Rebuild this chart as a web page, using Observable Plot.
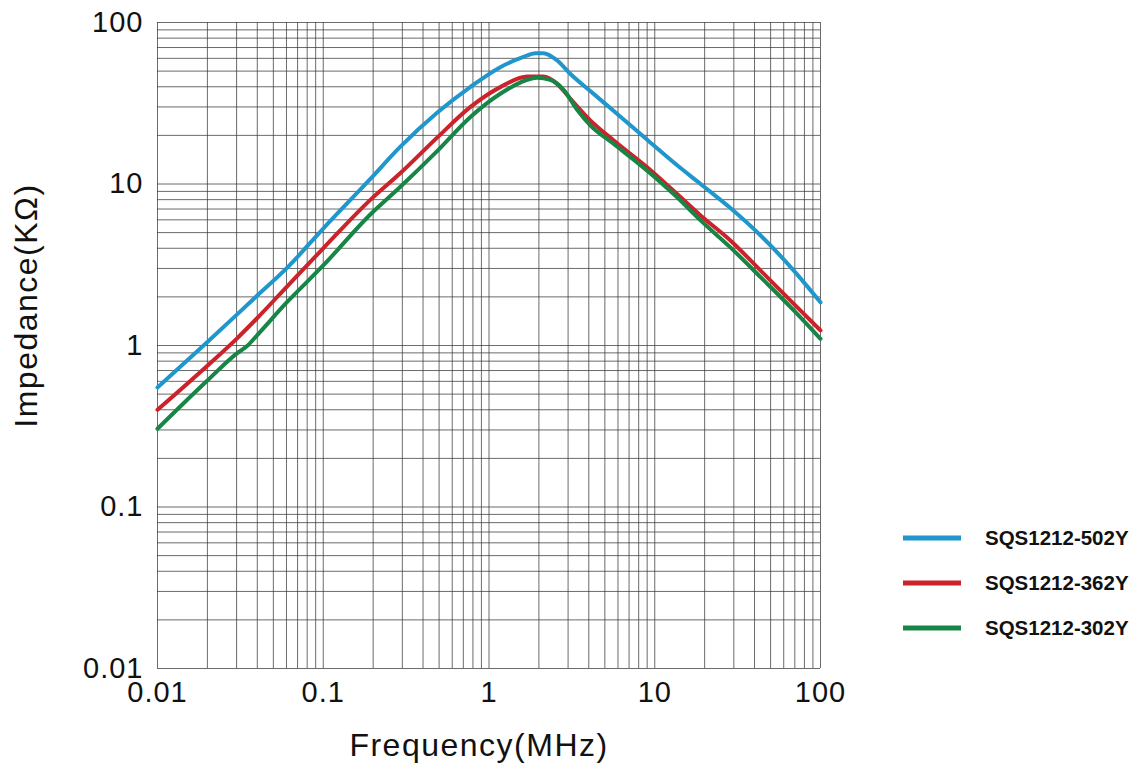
<!DOCTYPE html>
<html>
<head>
<meta charset="utf-8">
<script src="https://cdn.jsdelivr.net/npm/d3@7"></script>
<script src="https://cdn.jsdelivr.net/npm/@observablehq/plot@0.6"></script>
<style>
  html, body { margin: 0; padding: 0; background: #fff; }
  #wrap { position: relative; width: 1141px; height: 775px; font-family: "Liberation Sans", Arial, sans-serif; }
  #legend { position: absolute; left: 903px; top: 515px; }
  .item { display: flex; align-items: center; height: 45px; }
  .item svg { width: 60px; height: 10px; margin-right: 22px; }
  .item span { font-size: 20.5px; font-weight: bold; color: #111; }
  g[aria-label$="tick label"] text { letter-spacing: 1px; }
  g[aria-label="text"] text { letter-spacing: 1.5px; }
</style>
</head>
<body>
<div id="wrap"><div id="legend"></div></div>
<script>
// ---- data ----
const seriesNames = ["SQS1212-502Y", "SQS1212-362Y", "SQS1212-302Y"];
const seriesColors = ["#1f96cc", "#cc2229", "#178546"];

const freq502 = [0.01, 0.02, 0.04, 0.06, 0.1, 0.19, 0.29, 0.49, 0.77, 1.17, 1.6, 1.91, 2.13, 2.58, 3.1, 4.1, 5.66, 9.0, 13.6, 18.9, 28.6, 43.5, 69, 100];
const imp502  = [0.55, 1.05, 2.04, 3.0, 5.3, 10.6, 16.9, 27.8, 39.8, 52.9, 61, 64.6, 64.6, 58.2, 48, 37.5, 28.3, 18.8, 13.1, 10.0, 7.1, 4.8, 2.91, 1.85];

const freq362 = [0.01, 0.02, 0.03, 0.04, 0.06, 0.1, 0.193, 0.29, 0.49, 0.77, 1.17, 1.7, 2.13, 2.58, 3.1, 4.1, 5.66, 9.0, 13.6, 18.9, 28.6, 43.5, 69, 100];
const imp362  = [0.40, 0.75, 1.1, 1.48, 2.3, 4.0, 8.0, 11.6, 19.5, 29.9, 39.8, 46.3, 46.3, 41.7, 33.7, 24.7, 18.6, 12.7, 8.7, 6.38, 4.47, 2.91, 1.81, 1.24];

const freq302 = [0.01, 0.02, 0.03, 0.035, 0.04, 0.06, 0.1, 0.193, 0.29, 0.49, 0.77, 1.17, 1.78, 1.94, 2.34, 2.84, 3.43, 4.1, 5.66, 9.0, 13.6, 18.9, 28.6, 43.5, 69, 100];
const imp302  = [0.305, 0.607, 0.89, 1.0, 1.16, 1.84, 3.13, 6.5, 9.55, 16.1, 25.9, 36.2, 44.8, 45.5, 44.2, 37.9, 28.5, 23, 17.7, 12.1, 8.3, 5.95, 4.05, 2.65, 1.65, 1.1];

const xTickValues = [0.01, 0.1, 1, 10, 100];
const yTickValues = [0.01, 0.1, 1, 10, 100];
const xLabel = "Frequency(MHz)";
const yLabel = "Impedance(KΩ)";

// ---- build ----
const freqs = [freq502, freq362, freq302];
const imps = [imp502, imp362, imp302];
const rows = seriesNames.flatMap((name, i) => freqs[i].map((f, j) => ({series: name, f, z: imps[i][j]})));

const minor = (decades) => decades.slice(0, -1).flatMap(d => [1,2,3,4,5,6,7,8,9].map(m => +(m * d).toPrecision(3))).concat([decades[decades.length - 1]]);
const xGrid = minor(xTickValues);
const yGrid = minor(yTickValues);

const chart = Plot.plot({
  width: 1141,
  height: 775,
  marginLeft: 157,
  marginRight: 321,
  marginTop: 22,
  marginBottom: 107,
  style: {fontFamily: "'Liberation Sans', Arial, sans-serif", background: "#fff", color: "#111"},
  x: {type: "log", domain: [0.01, 100]},
  y: {type: "log", domain: [0.01, 100]},
  color: {domain: seriesNames, range: seriesColors},
  marks: [
    Plot.gridX(xGrid, {stroke: "#3a3a3a", strokeOpacity: 0.75, strokeWidth: 1}),
    Plot.gridY(yGrid, {stroke: "#3a3a3a", strokeOpacity: 0.75, strokeWidth: 1}),
    Plot.axisX(xTickValues, {tickSize: 0, tickPadding: 13, fontSize: 29, tickFormat: d => String(d), label: null}),
    Plot.axisY(yTickValues, {tickSize: 0, tickPadding: 14, fontSize: 29, tickFormat: d => String(d), label: null}),
    Plot.line(rows, {x: "f", y: "z", z: "series", stroke: "series", strokeWidth: 4, curve: "monotone-x"}),
    Plot.text([xLabel], {frameAnchor: "bottom", dx: -10, dy: 87, fontSize: 32, fill: "#111"}),
    Plot.text([yLabel], {frameAnchor: "left", textAnchor: "middle", rotate: -90, dx: -131, dy: -40, fontSize: 32, fill: "#111"})
  ]
});
chart.style.position = "absolute"; chart.style.left = "0"; chart.style.top = "0";
document.getElementById("wrap").prepend(chart);

const legend = document.getElementById("legend");
seriesNames.forEach((name, i) => {
  const item = document.createElement("div");
  item.className = "item";
  item.innerHTML = `<svg viewBox="0 0 60 10"><line x1="0" y1="5" x2="58" y2="5" stroke="${seriesColors[i]}" stroke-width="5"/></svg><span>${name}</span>`;
  legend.appendChild(item);
});
</script>
</body>
</html>
